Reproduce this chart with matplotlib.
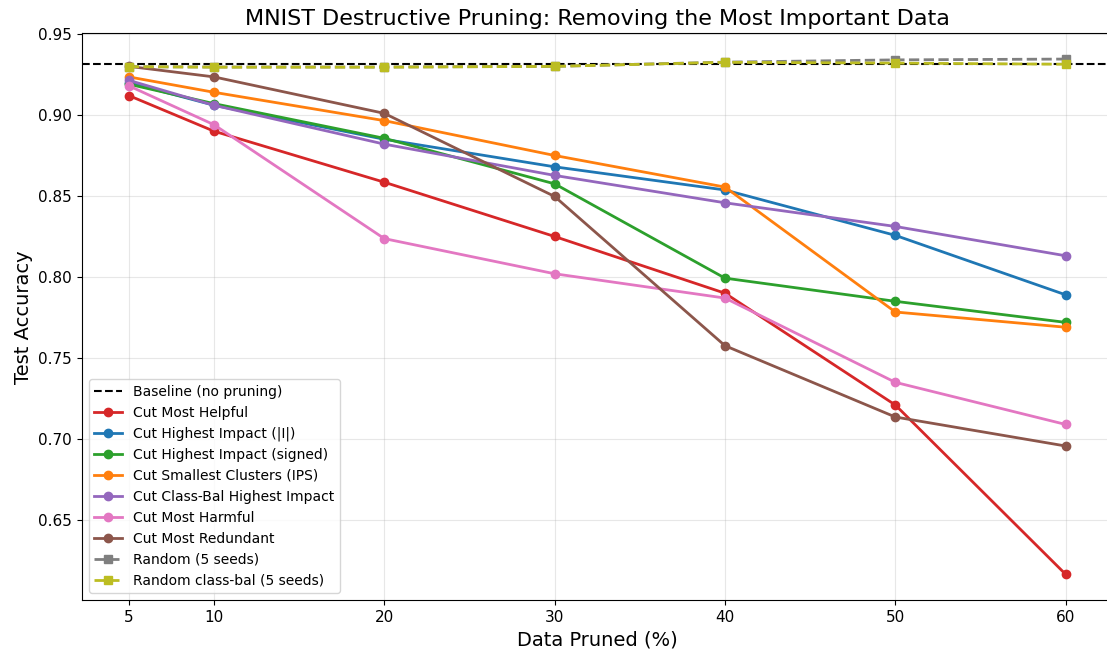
import numpy as np
import matplotlib
matplotlib.use('Agg')
import matplotlib.pyplot as plt

pruned = [5, 10, 20, 30, 40, 50, 60]
baseline = 0.9315

most_helpful = [0.912, 0.890, 0.8585, 0.825, 0.790, 0.721, 0.6165]
highest_abs = [0.920, 0.906, 0.885, 0.868, 0.8537, 0.8257, 0.789]
highest_signed = [0.919, 0.907, 0.8856, 0.8575, 0.7993, 0.785, 0.772]
smallest_clusters = [0.9235, 0.914, 0.8965, 0.875, 0.8555, 0.7784, 0.769]
classbal_highest = [0.9214, 0.906, 0.882, 0.8627, 0.8458, 0.8312, 0.8131]
most_harmful = [0.918, 0.894, 0.8237, 0.802, 0.787, 0.735, 0.709]
most_redundant = [0.930, 0.9235, 0.901, 0.8497, 0.7576, 0.7136, 0.6957]
random_5 = [0.9298, 0.9296, 0.9296, 0.9300, 0.9326, 0.9340, 0.9345]
random_cb_5 = [0.9298, 0.9295, 0.9295, 0.9300, 0.9325, 0.9320, 0.9313]

fig, ax = plt.subplots(figsize=(11.07, 6.53), dpi=100)
plt.subplots_adjust(left=0.074, right=1.005, top=0.949, bottom=0.081)

ax.axhline(baseline, color='black', linestyle='--', linewidth=1.5, label='Baseline (no pruning)')
ax.plot(pruned, most_helpful, 'o-', color='#d62728', lw=2, ms=6, label='Cut Most Helpful')
ax.plot(pruned, highest_abs, 'o-', color='#1f77b4', lw=2, ms=6, label='Cut Highest Impact (|I|)')
ax.plot(pruned, highest_signed, 'o-', color='#2ca02c', lw=2, ms=6, label='Cut Highest Impact (signed)')
ax.plot(pruned, smallest_clusters, 'o-', color='#ff7f0e', lw=2, ms=6, label='Cut Smallest Clusters (IPS)')
ax.plot(pruned, classbal_highest, 'o-', color='#9467bd', lw=2, ms=6, label='Cut Class-Bal Highest Impact')
ax.plot(pruned, most_harmful, 'o-', color='#e377c2', lw=2, ms=6, label='Cut Most Harmful')
ax.plot(pruned, most_redundant, 'o-', color='#8c564b', lw=2, ms=6, label='Cut Most Redundant')
ax.plot(pruned, random_5, 's--', color='#7f7f7f', lw=2, ms=6, label='Random (5 seeds)')
ax.plot(pruned, random_cb_5, 's--', color='#bcbd22', lw=2, ms=6, label='Random class-bal (5 seeds)')

ax.set_xticks(pruned)
ax.tick_params(labelsize=11)
ax.set_xlabel('Data Pruned (%)', fontsize=14)
ax.set_ylabel('Test Accuracy', fontsize=14)
ax.set_title('MNIST Destructive Pruning: Removing the Most Important Data', fontsize=16)
ax.grid(True, alpha=0.3)
ax.legend(loc='lower left', fontsize=10)

plt.savefig('out.png', dpi=100)
